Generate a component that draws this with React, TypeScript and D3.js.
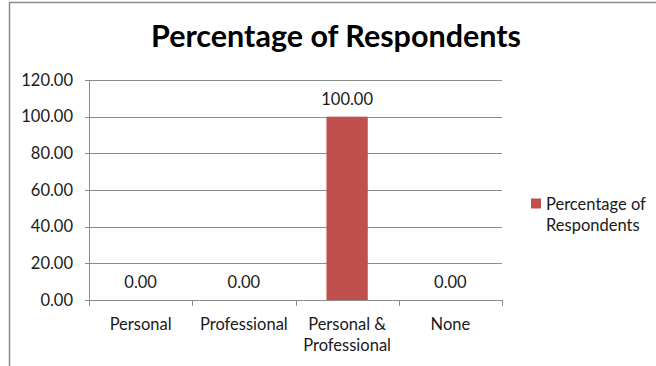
import React from "react";
import * as d3 from "d3";

const categories: string[][] = [["Personal"], ["Professional"], ["Personal &", "Professional"], ["None"]];
const values: number[] = [0, 0, 100, 0];
const yTicks: number[] = [0, 20, 40, 60, 80, 100, 120];
const legendLines: string[] = ["Percentage of", "Respondents"];
const title = "Percentage of Respondents";

const W = 656;
const H = 366;
const FONT = "Lato, 'Open Sans', sans-serif";

export default function App() {
  const x = d3
    .scaleBand<number>()
    .domain(categories.map((_, i) => i))
    .range([89, 502])
    .paddingInner(0)
    .paddingOuter(0);
  const y = d3.scaleLinear().domain([0, 120]).range([300, 80]);
  const barW = x.bandwidth() * 0.4;
  const grid = "#8c8c8c";
  const fmt = d3.format(".2f");

  return (
    <svg
      width={W}
      height={H}
      style={{ position: "absolute", left: 0, top: 0, background: "#fff" }}
      fontFamily={FONT}
    >
      {/* chart frame */}
      <rect x={9.5} y={2.5} width={700} height={400} fill="none" stroke="#8a8a8a" strokeWidth={1.5} />

      <text x={336} y={47} textAnchor="middle" fontSize={30.5} fontWeight={700} fill="#000">
        {title}
      </text>

      {/* gridlines and y ticks */}
      {yTicks.map((t) => (
        <g key={t}>
          <line x1={85} x2={502} y1={Math.round(y(t)) + 0.5} y2={Math.round(y(t)) + 0.5} stroke={grid} strokeWidth={1} />
          <text x={73} y={y(t) + 5.5} textAnchor="end" fontSize={16.5} fill="#1a1a1a">
            {fmt(t)}
          </text>
        </g>
      ))}

      {/* y axis */}
      <line x1={89.5} x2={89.5} y1={80} y2={300} stroke={grid} />

      {/* category ticks */}
      {d3.range(categories.length + 1).map((i) => {
        const xp = i < categories.length ? x(i)! : x(categories.length - 1)! + x.bandwidth();
        return <line key={i} x1={Math.round(xp) + 0.5} x2={Math.round(xp) + 0.5} y1={300} y2={306} stroke={grid} />;
      })}

      {/* bars with value labels */}
      {values.map((v, i) => {
        const cx = x(i)! + x.bandwidth() / 2;
        return (
          <g key={i}>
            <rect x={cx - barW / 2} y={y(v)} width={barW} height={y(0) - y(v)} fill="#C0504D" />
            <text x={cx} y={y(v) - 12} textAnchor="middle" fontSize={16.5} fill="#1a1a1a">
              {fmt(v)}
            </text>
          </g>
        );
      })}

      {/* category labels */}
      {categories.map((lines, i) => {
        const cx = x(i)! + x.bandwidth() / 2;
        return (
          <text key={i} x={cx} textAnchor="middle" fontSize={16.5} fill="#1a1a1a">
            {lines.map((l, j) => (
              <tspan key={j} x={cx} y={330 + j * 20.5}>
                {l}
              </tspan>
            ))}
          </text>
        );
      })}

      {/* legend */}
      <rect x={531} y={198.5} width={10} height={10} fill="#C0504D" />
      <text fontSize={16.5} fill="#1a1a1a">
        {legendLines.map((l, j) => (
          <tspan key={j} x={546} y={209.5 + j * 21}>
            {l}
          </tspan>
        ))}
      </text>
    </svg>
  );
}
